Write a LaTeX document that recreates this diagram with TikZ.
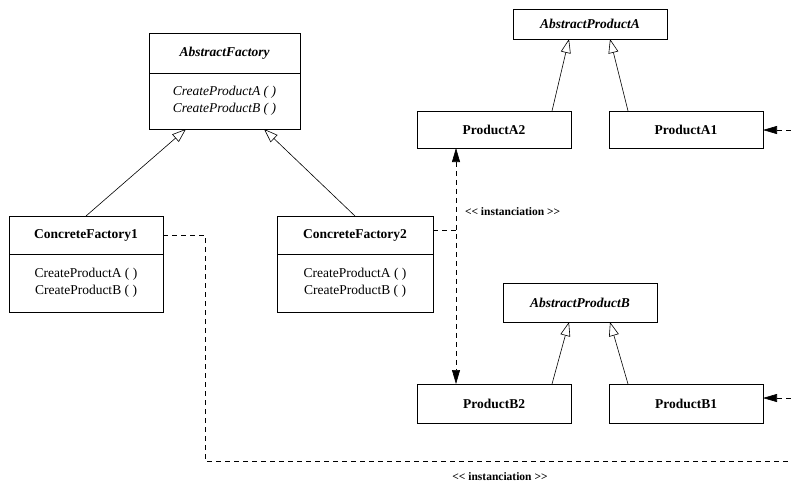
\documentclass[tikz,border=0pt]{standalone}
\usepackage{fontspec}
\setmainfont{Liberation Serif}
\usetikzlibrary{arrows.meta}
% two separate "<" glyphs, kept apart so they are not joined into a guillemet
\newcommand{\lsteq}{<\kern0pt<}
\newcommand{\gsteq}{>\kern0pt>}

\begin{document}
\begin{tikzpicture}[x=1pt,y=-1pt,
  every node/.style={inner sep=0pt, outer sep=0pt},
  classbox/.style={draw, line width=0.8pt, minimum width=154pt, align=center,
                   font=\fontsize{13.5}{17}\selectfont},
  gen/.style={line width=0.6pt, -{Triangle[open,length=14pt,width=10pt]}},
  dep/.style={line width=0.6pt, dash pattern=on 5pt off 4pt},
  Inst/.tip={Triangle[length=14pt,width=8pt]},
  stereo/.style={font=\fontsize{11.5}{13}\selectfont\bfseries, anchor=west}]
\useasboundingbox (0,0) rectangle (791,483);

% abstract factory
\node[classbox, minimum width=151pt, minimum height=40pt] (afhead) at (224.5,53) {\bfseries\itshape AbstractFactory};
\node[classbox, minimum width=151pt, minimum height=56pt, anchor=north] (afbody) at (afhead.south) {\itshape CreateProductA ( )\\\itshape CreateProductB ( )};

% concrete factories
\node[classbox, minimum height=38pt] (cf1head) at (86,235) {\bfseries ConcreteFactory1};
\node[classbox, minimum height=58pt, anchor=north] (cf1body) at (cf1head.south) {CreateProductA ( )\\CreateProductB ( )};
\node[classbox, minimum width=156pt, minimum height=38pt] (cf2head) at (355,235) {\bfseries ConcreteFactory2};
\node[classbox, minimum width=156pt, minimum height=58pt, anchor=north] (cf2body) at (cf2head.south) {CreateProductA ( )\\CreateProductB ( )};

% products
\node[classbox, minimum height=30pt] (apa) at (590,24) {\bfseries\itshape AbstractProductA};
\node[classbox, minimum height=37pt] (a2) at (494,129.5) {\bfseries ProductA2};
\node[classbox, minimum height=37pt] (a1) at (686,129.5) {\bfseries ProductA1};
\node[classbox, minimum height=39pt] (apb) at (580,302.5) {\bfseries\itshape AbstractProductB};
\node[classbox, minimum height=39pt] (b2) at (494,403.5) {\bfseries ProductB2};
\node[classbox, minimum height=39pt] (b1) at (686,403.5) {\bfseries ProductB1};

% generalizations
\draw[gen] (cf1head.north) -- ([xshift=-38.5pt]afbody.south);
\draw[gen] (cf2head.north) -- ([xshift=39.5pt]afbody.south);
\draw[gen] ([xshift=58pt]a2.north) -- ([xshift=-21pt]apa.south);
\draw[gen] ([xshift=-58pt]a1.north) -- ([xshift=20pt]apa.south);
\draw[gen] ([xshift=58pt]b2.north) -- ([xshift=-11pt]apb.south);
\draw[gen] ([xshift=-58pt]b1.north) -- ([xshift=30pt]apb.south);

% instanciation links
\coordinate (vx) at ([xshift=-38pt]a2.south);
\draw[dep, {Inst}-{Inst}] (vx) -- ([xshift=-38pt]b2.north)
  node[pos=0.27, stereo, xshift=9pt] (lbl1) {\lsteq{} instanciation \gsteq};
\draw[dep] ([yshift=5pt]cf2head.east) -- ([yshift=5pt]cf2head.east -| vx);
\coordinate (bend1) at (205,235);
\coordinate (bend2) at (205,461);
\coordinate (outB) at (791,461);
\draw[dep] (cf1head.east) -- (bend1) -- (bend2) -- (outB);
\node[stereo, anchor=center] (lbl2) at (500,477) {\lsteq{} instanciation \gsteq};

\coordinate (inA) at (791,130);
\coordinate (inB) at (791,398);
\draw[dep, -{Inst}] (inA) -- (inA -| a1.east);
\draw[dep, -{Inst}] (inB) -- (inB -| b1.east);
\end{tikzpicture}
\end{document}
